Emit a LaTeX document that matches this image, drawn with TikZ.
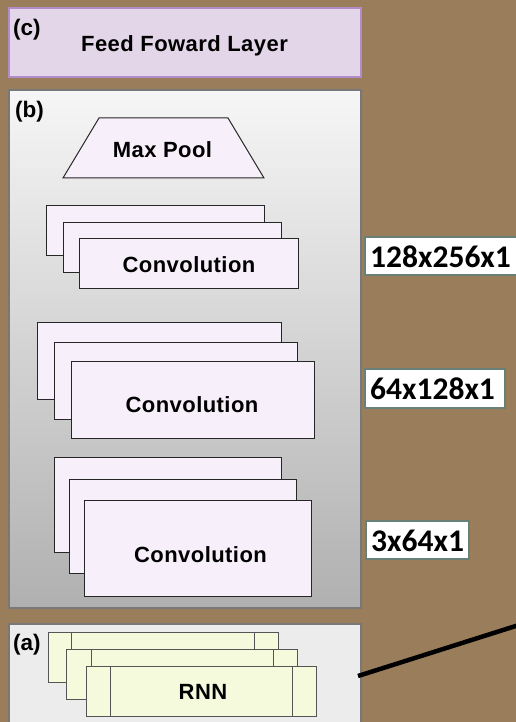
\documentclass[tikz,border=0pt]{standalone}
\usepackage{fontspec}
\setmainfont{Liberation Sans}
\newfontfamily\calibfont{Carlito}
\definecolor{bgbrown}{RGB}{154,126,92}
\definecolor{cfill}{RGB}{228,214,233}
\definecolor{cborder}{RGB}{178,140,200}
\definecolor{btop}{RGB}{246,246,246}
\definecolor{bbottom}{RGB}{176,176,176}
\definecolor{panelborder}{RGB}{120,120,120}
\definecolor{convfill}{RGB}{247,240,250}
\definecolor{afill}{RGB}{236,236,236}
\definecolor{rnnfill}{RGB}{245,250,220}
\definecolor{rnnborder}{RGB}{85,85,85}
\definecolor{dimborder}{RGB}{105,128,118}
\begin{document}
\begin{tikzpicture}[x=1pt,y=-1pt,
  panel/.style={draw=panelborder, line width=1.2pt, anchor=north west, inner sep=0pt, outer sep=0pt},
  convbox/.style={draw=black!85, fill=convfill, line width=1pt, anchor=north west, inner sep=0pt, outer sep=0pt},
  rnnbox/.style={draw=rnnborder, fill=rnnfill, line width=1pt, anchor=north west, inner sep=0pt, outer sep=0pt, minimum width=230pt, minimum height=50pt},
  rnnline/.style={draw=rnnborder, line width=1pt},
  lbl/.style={font=\fontsize{22}{26}\selectfont\addfontfeatures{LetterSpace=2}\bfseries, inner sep=0pt, anchor=base},
  tag/.style={font=\fontsize{22.5}{26}\selectfont\bfseries, inner sep=0pt, anchor=base west},
  dimbox/.style={draw=dimborder, fill=white, line width=1.5pt, anchor=north west, inner sep=0pt, outer sep=0pt},
  dimtxt/.style={font=\calibfont\fontsize{31.5}{36}\selectfont\bfseries, inner sep=0pt, anchor=west}]
\useasboundingbox (0,0) rectangle (516,722);
\clip (0,0) rectangle (516,722);
\fill[bgbrown] (0,0) rectangle (516,722);

% (c) panel
\node[panel, draw=cborder, fill=cfill, minimum width=352pt, minimum height=69pt] (panelc) at (9,8) {};
\node[tag] (tagc) at (13,35.5) {(c)};
\node[lbl] (ffl) at (184.5,52) {Feed Foward Layer};

% (b) panel
\node[panel, top color=btop, bottom color=bbottom, minimum width=352pt, minimum height=518pt] (panelb) at (9,90) {};
\node[tag] (tagb) at (15,117.5) {(b)};

% Max pool
\draw[draw=black!85, fill=convfill, line width=1pt] (63,178) -- (99,118) -- (228,118) -- (264,178) -- cycle;
\node[lbl] (maxpool) at (162.5,158) {Max Pool};

% Convolution group 1
\node[convbox, minimum width=218pt, minimum height=50pt] (c1a) at (46,205) {};
\node[convbox, minimum width=218pt, minimum height=50pt] (c1b) at (63,222) {};
\node[convbox, minimum width=219pt, minimum height=50pt] (c1c) at (79,238) {};
\node[lbl] (conv1) at (189,272) {Convolution};

% Convolution group 2
\node[convbox, minimum width=244pt, minimum height=77pt] (c2a) at (37,322) {};
\node[convbox, minimum width=243pt, minimum height=77pt] (c2b) at (54,342) {};
\node[convbox, minimum width=243pt, minimum height=77pt] (c2c) at (71,361) {};
\node[lbl] (conv2) at (192,412) {Convolution};

% Convolution group 3
\node[convbox, minimum width=227pt, minimum height=95pt] (c3a) at (54,457) {};
\node[convbox, minimum width=227pt, minimum height=94pt] (c3b) at (69,479) {};
\node[convbox, minimum width=227pt, minimum height=96pt] (c3c) at (84,500) {};
\node[lbl] (conv3) at (200.5,562) {Convolution};

% dimension labels
\node[dimbox, minimum width=160pt, minimum height=38pt] (d1box) at (365,237) {};
\node[dimtxt] (d1) at (370,256.5) {128x256x1};
\node[dimbox, minimum width=140pt, minimum height=39pt] (d2box) at (365,369) {};
\node[dimtxt] (d2) at (370,389) {64x128x1};
\node[dimbox, minimum width=103pt, minimum height=38pt] (d3box) at (366,521) {};
\node[dimtxt] (d3) at (371,540.5) {3x64x1};

% (a) panel
\node[panel, fill=afill, minimum width=352pt, minimum height=120pt] (panela) at (9,624) {};
\node[tag] (taga) at (13,650.5) {(a)};

% RNN stacks
\node[rnnbox] (r1) at (48,632) {};
\draw[rnnline] (r1.north west) ++(23,0) -- ++(0,50);
\draw[rnnline] (r1.north east) ++(-24,0) -- ++(0,50);
\node[rnnbox, minimum width=231pt] (r2) at (66,649) {};
\draw[rnnline] (r2.north west) ++(25,0) -- ++(0,50);
\draw[rnnline] (r2.north east) ++(-24,0) -- ++(0,50);
\node[rnnbox] (r3) at (86,666) {};
\draw[rnnline] (r3.north west) ++(24,0) -- ++(0,50);
\draw[rnnline] (r3.north east) ++(-24,0) -- ++(0,50);
\node[lbl] (rnn) at (203,699) {RNN};

% thick connector
\coordinate (ls) at (358,676);
\coordinate (le) at (522,624);
\draw[line width=4.5pt, black] (ls) -- (le);
\end{tikzpicture}
\end{document}
